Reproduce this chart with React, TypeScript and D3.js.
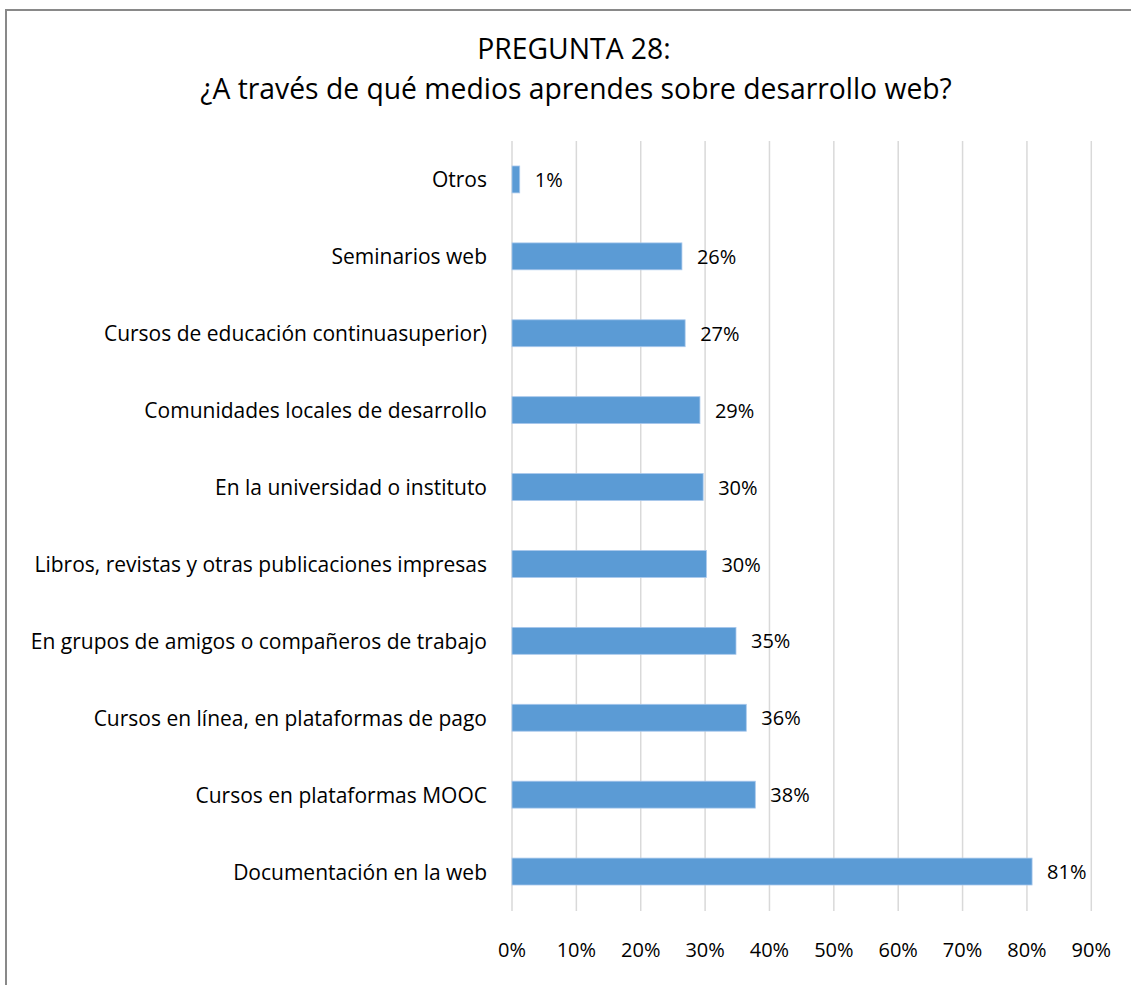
import { useRef, useEffect } from "react";
import * as d3 from "d3";

const categories = [
  "Otros",
  "Seminarios web",
  "Cursos de educación continuasuperior)",
  "Comunidades locales de desarrollo",
  "En la universidad o instituto",
  "Libros, revistas y otras publicaciones impresas",
  "En grupos de amigos o compañeros de trabajo",
  "Cursos en línea, en plataformas de pago",
  "Cursos en plataformas MOOC",
  "Documentación en la web",
];
const values = [1.2, 26.4, 26.9, 29.2, 29.7, 30.2, 34.8, 36.4, 37.8, 80.8];
const ticks = [0, 10, 20, 30, 40, 50, 60, 70, 80, 90];

const FONT = "'Open Sans', sans-serif";

const App = () => {
  const ref = useRef<SVGSVGElement>(null);

  useEffect(() => {
    const svg = d3.select(ref.current);
    svg.selectAll("*").remove();

    const x = d3.scaleLinear().domain([0, 90]).range([512, 1091.3]);
    const y = d3
      .scaleBand<string>()
      .domain(categories)
      .range([141, 910])
      .paddingInner(0.65)
      .paddingOuter(0.325);

    // frame
    svg
      .append("rect")
      .attr("x", 6)
      .attr("y", 10)
      .attr("width", 1200)
      .attr("height", 1100)
      .attr("fill", "#fff")
      .attr("stroke", "#898989")
      .attr("stroke-width", 2);

    // title
    const title = svg
      .append("text")
      .attr("text-anchor", "middle")
      .attr("font-family", FONT)
      .attr("font-size", 28.3)
      .attr("fill", "#000");
    title.append("tspan").attr("x", 574).attr("y", 59).text("PREGUNTA 28:");
    title
      .append("tspan")
      .attr("x", 576)
      .attr("y", 99)
      .text("¿A través de qué medios aprendes sobre desarrollo web?");

    // gridlines
    svg
      .append("g")
      .selectAll("line")
      .data(ticks)
      .enter()
      .append("line")
      .attr("x1", d => x(d))
      .attr("x2", d => x(d))
      .attr("y1", 141)
      .attr("y2", 911)
      .attr("stroke", "#d9d9d9")
      .attr("stroke-width", 1.5);

    // tick labels
    svg
      .append("g")
      .selectAll("text")
      .data(ticks)
      .enter()
      .append("text")
      .attr("x", d => x(d))
      .attr("y", 957)
      .attr("text-anchor", "middle")
      .attr("font-family", FONT)
      .attr("font-size", 20)
      .attr("fill", "#000")
      .text(d => `${d}%`);

    // bars
    svg
      .append("g")
      .selectAll("rect")
      .data(values)
      .enter()
      .append("rect")
      .attr("x", x(0))
      .attr("y", (_d, i) => y(categories[i]) as number)
      .attr("width", d => x(d) - x(0))
      .attr("height", y.bandwidth())
      .attr("fill", "#5b9bd5")
      .attr("stroke", "#a9c8ec")
      .attr("stroke-width", 0.8);

    // value labels
    svg
      .append("g")
      .selectAll("text")
      .data(values)
      .enter()
      .append("text")
      .attr("x", d => x(d) + 15)
      .attr("y", (_d, i) => (y(categories[i]) as number) + y.bandwidth() / 2)
      .attr("dy", "0.38em")
      .attr("font-family", FONT)
      .attr("font-size", 20)
      .attr("fill", "#000")
      .text(d => `${Math.round(d)}%`);

    // category labels
    svg
      .append("g")
      .selectAll("text")
      .data(categories)
      .enter()
      .append("text")
      .attr("x", 487)
      .attr("y", d => (y(d) as number) + y.bandwidth() / 2)
      .attr("dy", "0.38em")
      .attr("text-anchor", "end")
      .attr("font-family", FONT)
      .attr("font-size", 21)
      .attr("fill", "#000")
      .text(d => d);
  }, []);

  return (
    <svg
      ref={ref}
      width={1131}
      height={985}
      style={{ position: "absolute", left: 0, top: 0 }}
    />
  );
};

export default App;
